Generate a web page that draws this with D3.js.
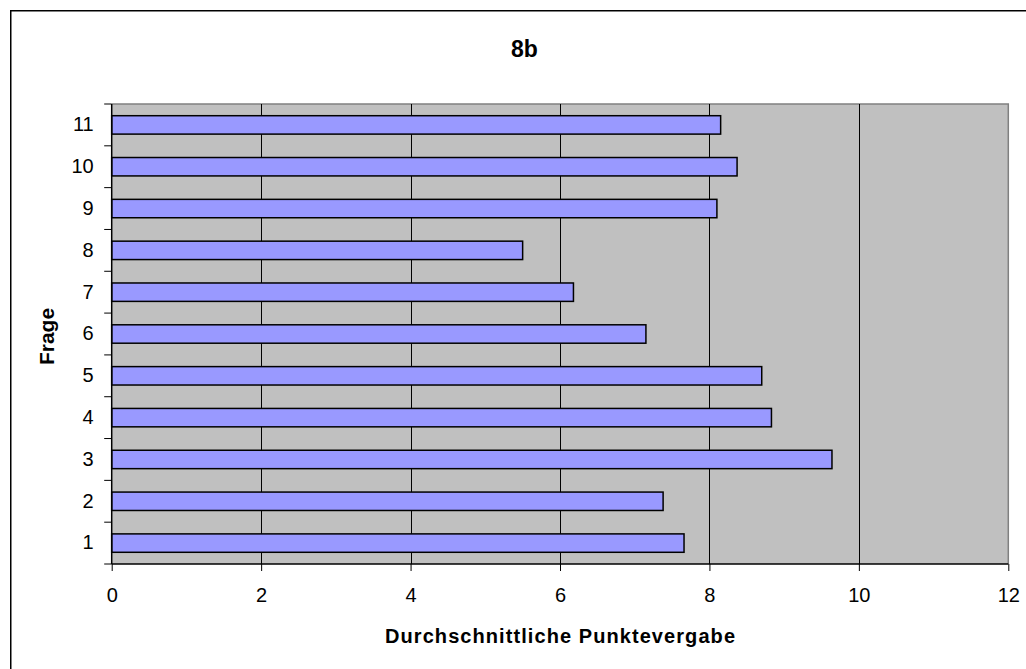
<!DOCTYPE html>
<html>
<head>
<meta charset="utf-8">
<script src="https://cdn.jsdelivr.net/npm/d3@7"></script>
<style>
html,body{margin:0;padding:0;background:#fff;}
svg{display:block;font-family:"Liberation Sans",Arial,sans-serif;}
</style>
</head>
<body>
<svg id="chart" width="1026" height="669"></svg>
<script>
const categories = ["1","2","3","4","5","6","7","8","9","10","11"];
const values = [7.66, 7.38, 9.64, 8.83, 8.70, 7.15, 6.18, 5.50, 8.10, 8.37, 8.15];
const xTicks = [0, 2, 4, 6, 8, 10, 12];
const title = "8b";
const xTitle = "Durchschnittliche Punktevergabe";
const yTitle = "Frage";

const svg = d3.select("#chart");
const plot = {left: 111.7, right: 1008.3, top: 104, bottom: 564};

// outer frame (only left/top visible)
svg.append("rect").attr("x", 10.75).attr("y", 10.75).attr("width", 1200).attr("height", 1200)
  .attr("fill", "none").attr("stroke", "#000").attr("stroke-width", 1.5);

const x = d3.scaleLinear().domain([0, 12]).range([plot.left, plot.right]);
const y = d3.scaleBand().domain(categories.slice().reverse())
  .range([plot.top, plot.bottom]).paddingInner(0.56).paddingOuter(0.28);

// plot background
svg.append("rect").attr("x", plot.left).attr("y", plot.top)
  .attr("width", plot.right - plot.left).attr("height", plot.bottom - plot.top)
  .attr("fill", "#C0C0C0");

// gray border top/right
svg.append("path")
  .attr("d", `M${plot.left},${plot.top}H${plot.right}V${plot.bottom}`)
  .attr("fill", "none").attr("stroke", "#808080").attr("stroke-width", 1.5);

// gridlines
svg.append("g").selectAll("line").data(xTicks.filter(t => t > 0 && t < 12)).join("line")
  .attr("x1", d => Math.round(x(d)) + 0.5).attr("x2", d => Math.round(x(d)) + 0.5)
  .attr("y1", plot.top).attr("y2", plot.bottom)
  .attr("stroke", "#000").attr("stroke-width", 1);

// bars
svg.append("g").selectAll("rect").data(categories).join("rect")
  .attr("x", x(0))
  .attr("y", d => y(d))
  .attr("width", (d, i) => x(values[i]) - x(0))
  .attr("height", y.bandwidth())
  .attr("fill", "#9999FF")
  .attr("stroke", "#000").attr("stroke-width", 1.5);

// x axis
const xAxis = d3.axisBottom(x).tickValues(xTicks).tickSize(7).tickPadding(17);
const gx = svg.append("g").attr("transform", `translate(0,${plot.bottom})`).call(xAxis);
gx.attr("font-size", 20).attr("font-family", "Liberation Sans, Arial, sans-serif");
gx.select(".domain").attr("stroke", "#000").attr("stroke-width", 1.5)
  .attr("d", `M${plot.left},0H${plot.right}`);
gx.selectAll(".tick line").attr("stroke", "#000");
gx.selectAll(".tick text").attr("fill", "#000");

// y axis: ticks at band boundaries
const yAxis = d3.axisLeft(y).tickSize(0).tickPadding(18);
const gy = svg.append("g").attr("transform", `translate(${plot.left},0)`).call(yAxis);
gy.attr("font-size", 20).attr("font-family", "Liberation Sans, Arial, sans-serif");
gy.select(".domain").attr("stroke", "#000").attr("stroke-width", 1.5)
  .attr("d", `M0,${plot.top}V${plot.bottom}`);
gy.selectAll(".tick text").attr("fill", "#000");
const step = y.step();
const bounds = d3.range(categories.length + 1).map(i => plot.top + i * step);
svg.append("g").selectAll("line").data(bounds).join("line")
  .attr("x1", plot.left - 7.5).attr("x2", plot.left)
  .attr("y1", d => d).attr("y2", d => d)
  .attr("stroke", "#000").attr("stroke-width", 1);

// titles
svg.append("text").attr("x", 524.5).attr("y", 56.5).attr("text-anchor", "middle")
  .attr("font-size", 23).attr("font-weight", "bold").text(title);
svg.append("text").attr("x", 560).attr("y", 642.5).attr("text-anchor", "middle")
  .attr("font-size", 20).attr("font-weight", "bold")
  .attr("textLength", 350).attr("lengthAdjust", "spacing").text(xTitle);
svg.append("text").attr("transform", "translate(54,336.5) rotate(-90)")
  .attr("text-anchor", "middle").attr("font-size", 21).attr("font-weight", "bold")
  .text(yTitle);
</script>
</body>
</html>
